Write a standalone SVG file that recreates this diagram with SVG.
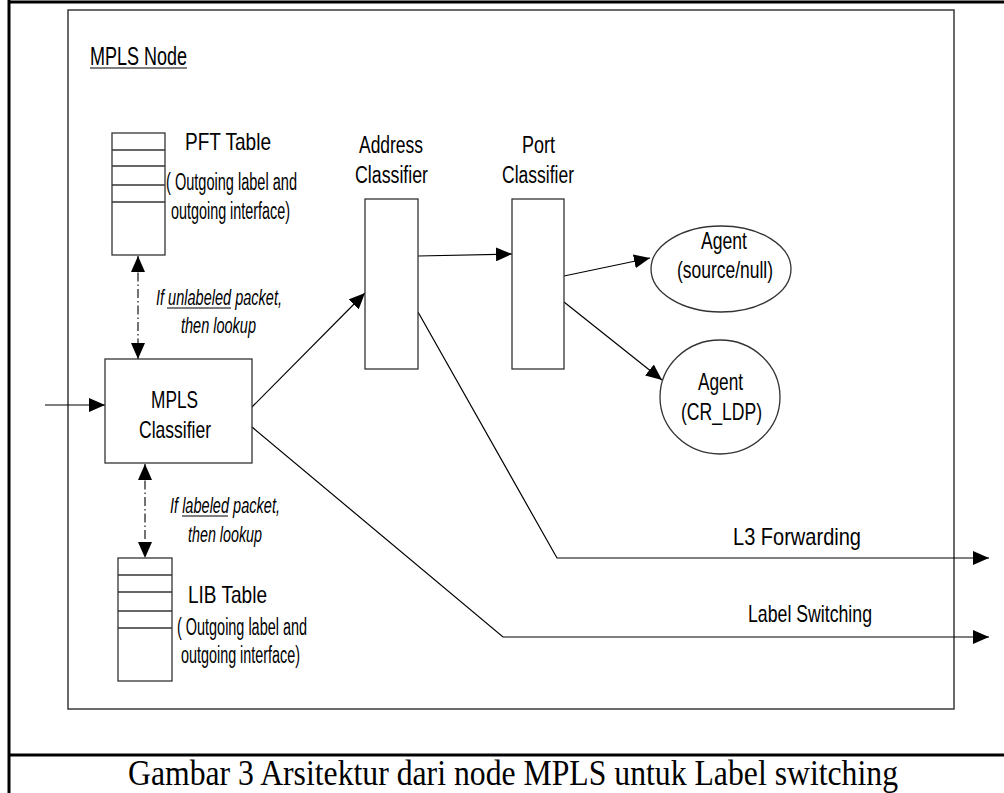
<svg xmlns="http://www.w3.org/2000/svg" width="1004" height="793" viewBox="0 0 1004 793">
<style>
.frame{fill:none;stroke:#000;stroke-width:3}
.inner{fill:none;stroke:#3a3a3a;stroke-width:1.5}
.box{fill:#fff;stroke:#333;stroke-width:1.3}
.row{stroke:#333;stroke-width:1.3}
.ul{stroke:#000;stroke-width:1.2}
.t{font-family:"Liberation Sans Narrow","Liberation Sans",Arial,sans-serif;font-size:24px;fill:#000}
.m{font-size:23px}
.s{font-size:23px}
.i{font-style:italic;font-size:22px}
.cap{font-family:"Liberation Serif","Times New Roman",serif;font-size:36px;fill:#000}
.c{fill:none;stroke:#000;stroke-width:1.2}
.dd{fill:none;stroke:#000;stroke-width:1.1;stroke-dasharray:9 3 1.5 3}
</style>
<defs>
<marker id="ah" markerUnits="userSpaceOnUse" markerWidth="17" markerHeight="14" refX="16" refY="7" orient="auto-start-reverse" viewBox="0 0 17 14">
<path d="M0,0 L16,7 L0,14 z" fill="#000"/>
</marker>
</defs>
<rect width="1004" height="793" fill="#fff"/>
<g id="frame">
<line class="frame" x1="9" y1="0" x2="9" y2="793"/>
<line class="frame" x1="9" y1="2" x2="1004" y2="2"/>
<line class="frame" x1="9" y1="755" x2="1004" y2="755" stroke-width="2.5"/>
<rect class="inner" x="68" y="10" width="886" height="699"/>
<text class="t" x="90" y="65" textLength="97" lengthAdjust="spacingAndGlyphs" style="font-size:25px">MPLS Node</text>
<line class="ul" x1="90" y1="68" x2="187" y2="68"/>
</g>
<g id="connectors">
<line class="c" x1="45" y1="405" x2="105" y2="405" marker-end="url(#ah)"/>
<line class="dd" x1="138" y1="256" x2="138" y2="359" marker-start="url(#ah)" marker-end="url(#ah)"/>
<line class="dd" x1="145" y1="464" x2="145" y2="558" marker-start="url(#ah)" marker-end="url(#ah)"/>
<line class="c" x1="252" y1="407" x2="365" y2="293" marker-end="url(#ah)"/>
<line class="c" x1="418" y1="256" x2="512" y2="254" marker-end="url(#ah)"/>
<line class="c" x1="564" y1="276" x2="650" y2="258" marker-end="url(#ah)"/>
<line class="c" x1="564" y1="302" x2="662" y2="380" marker-end="url(#ah)"/>
<polyline class="c" points="418,312 557,558 989,558" marker-end="url(#ah)"/>
<polyline class="c" points="252,427 503,637 989,637" marker-end="url(#ah)"/>
</g>
<g id="pft-table">
<rect class="box" x="112" y="133" width="53" height="122"/>
<line class="row" x1="112" y1="150" x2="165" y2="150"/>
<line class="row" x1="112" y1="166" x2="165" y2="166"/>
<line class="row" x1="112" y1="185" x2="165" y2="185"/>
<line class="row" x1="112" y1="202" x2="165" y2="202"/>
<text class="t" x="185" y="150" textLength="86" lengthAdjust="spacingAndGlyphs">PFT  Table</text>
<text class="t s" x="166" y="190" textLength="131" lengthAdjust="spacingAndGlyphs">( Outgoing label and</text>
<text class="t s" x="171" y="219" textLength="119" lengthAdjust="spacingAndGlyphs">outgoing interface)</text>
</g>
<g id="unlabeled-note">
<text class="t i" x="156" y="305" textLength="126" lengthAdjust="spacingAndGlyphs">If unlabeled packet,</text>
<line class="ul" x1="167" y1="308" x2="231" y2="308"/>
<text class="t i" x="181" y="333" textLength="75" lengthAdjust="spacingAndGlyphs">then lookup</text>
</g>
<g id="mpls-classifier">
<rect class="box" x="105" y="359" width="147" height="104"/>
<text class="t" x="151" y="408" textLength="47" lengthAdjust="spacingAndGlyphs">MPLS</text>
<text class="t" x="139" y="438" textLength="72" lengthAdjust="spacingAndGlyphs">Classifier</text>
</g>
<g id="labeled-note">
<text class="t i" x="170" y="513" textLength="110" lengthAdjust="spacingAndGlyphs">If labeled packet,</text>
<line class="ul" x1="182" y1="516" x2="228" y2="516"/>
<text class="t i" x="188" y="542" textLength="74" lengthAdjust="spacingAndGlyphs">then lookup</text>
</g>
<g id="lib-table">
<rect class="box" x="118" y="558" width="54" height="123"/>
<line class="row" x1="118" y1="575" x2="172" y2="575"/>
<line class="row" x1="118" y1="592" x2="172" y2="592"/>
<line class="row" x1="118" y1="611" x2="172" y2="611"/>
<line class="row" x1="118" y1="628" x2="172" y2="628"/>
<text class="t" x="188" y="603" textLength="79" lengthAdjust="spacingAndGlyphs">LIB  Table</text>
<text class="t s" x="177" y="635" textLength="130" lengthAdjust="spacingAndGlyphs">( Outgoing label and</text>
<text class="t s" x="181" y="663" textLength="119" lengthAdjust="spacingAndGlyphs">outgoing interface)</text>
</g>
<g id="address-classifier">
<rect class="box" x="365" y="199" width="53" height="170"/>
<text class="t m" x="359" y="153" textLength="64" lengthAdjust="spacingAndGlyphs">Address</text>
<text class="t m" x="355" y="183" textLength="73" lengthAdjust="spacingAndGlyphs">Classifier</text>
</g>
<g id="port-classifier">
<rect class="box" x="512" y="199" width="52" height="170"/>
<text class="t m" x="522" y="153" textLength="33" lengthAdjust="spacingAndGlyphs">Port</text>
<text class="t m" x="502" y="183" textLength="72" lengthAdjust="spacingAndGlyphs">Classifier</text>
</g>
<g id="agent-source">
<ellipse class="box" cx="721" cy="269" rx="70" ry="43"/>
<text class="t" x="701" y="249" textLength="46" lengthAdjust="spacingAndGlyphs">Agent</text>
<text class="t" x="677" y="278" textLength="96" lengthAdjust="spacingAndGlyphs">(source/null)</text>
</g>
<g id="agent-crldp">
<ellipse class="box" cx="720" cy="397" rx="60" ry="57"/>
<text class="t" x="698" y="390" textLength="45" lengthAdjust="spacingAndGlyphs">Agent</text>
<text class="t" x="681" y="420" textLength="81" lengthAdjust="spacingAndGlyphs">(CR_LDP)</text>
</g>
<g id="outputs">
<text class="t" x="733" y="545" textLength="128" lengthAdjust="spacingAndGlyphs">L3  Forwarding</text>
<text class="t" x="748" y="622" textLength="124" lengthAdjust="spacingAndGlyphs">Label Switching</text>
</g>
<g id="caption">
<text class="cap" x="128" y="785" textLength="770" lengthAdjust="spacingAndGlyphs">Gambar 3 Arsitektur dari node MPLS untuk Label switching</text>
</g>
</svg>
